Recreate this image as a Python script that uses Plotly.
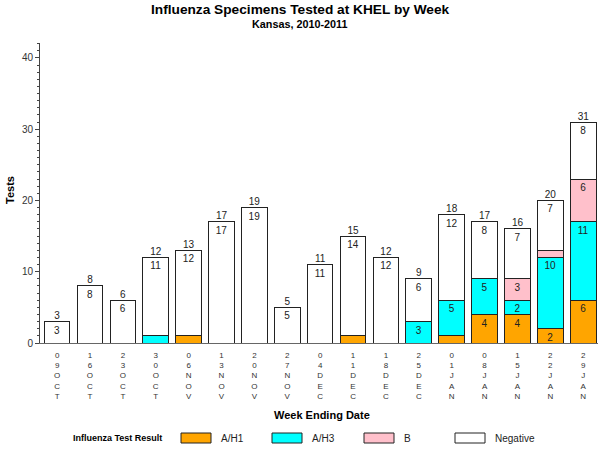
import plotly.graph_objects as go

# week ending dates, shown as stacked characters under each bar
weeks = ['09OCT', '16OCT', '23OCT', '30OCT', '06NOV', '13NOV', '20NOV', '27NOV', '04DEC',
         '11DEC', '18DEC', '25DEC', '01JAN', '08JAN', '15JAN', '22JAN', '29JAN']

a_h1 = [0, 0, 0, 0, 1, 0, 0, 0, 0, 1, 0, 0, 1, 4, 4, 2, 6]
a_h3 = [0, 0, 0, 1, 0, 0, 0, 0, 0, 0, 0, 3, 5, 5, 2, 10, 11]
flu_b = [0, 0, 0, 0, 0, 0, 0, 0, 0, 0, 0, 0, 0, 0, 3, 1, 6]
negative = [3, 8, 6, 11, 12, 17, 19, 5, 11, 14, 12, 6, 12, 8, 7, 7, 8]

series = [
    ('A/H1', a_h1, '#FFA500'),
    ('A/H3', a_h3, '#00FFFF'),
    ('B', flu_b, '#FFC0CB'),
    ('Negative', negative, '#FFFFFF'),
]

totals = [sum(v) for v in zip(a_h1, a_h3, flu_b, negative)]
tick_text = ['<br>'.join(list(w)) for w in weeks]

FONT = 'Arial, Liberation Sans, sans-serif'

fig = go.Figure()
for name, vals, color in series:
    fig.add_trace(go.Bar(
        x=weeks, y=vals, name=name,
        marker=dict(color=color, line=dict(color='#222222', width=1)),
        text=[str(v) if v >= 2 else '' for v in vals],
        textposition='inside', insidetextanchor='end', textangle=0,
        textfont=dict(family=FONT, size=10, color='#222222'),
        showlegend=False, hoverinfo='skip',
    ))

# totals above each stack
fig.add_trace(go.Scatter(
    x=weeks, y=totals, mode='text', text=[str(t) for t in totals],
    textposition='top center', textfont=dict(family=FONT, size=10, color='#222222'),
    showlegend=False, cliponaxis=False, hoverinfo='skip',
))

# pixel -> paper helpers (plot area is x 40..598, y 43..343)
def px(x):
    return (x - 40) / 558.0

def py(y):
    return (343 - y) / 300.0

annotations = [
    dict(text='<b>Influenza Specimens Tested at KHEL by Week</b>', x=px(300), y=py(10),
         font=dict(size=13.7, color='black')),
    dict(text='<b>Kansas, 2010-2011</b>', x=px(299), y=py(24), font=dict(size=10.8, color='black')),
    dict(text='<b>Week Ending Date</b>', x=px(322), y=py(415), font=dict(size=11, color='black')),
    dict(text='<b>Tests</b>', x=px(10), y=py(190), textangle=-90, font=dict(size=11, color='black')),
    dict(text='<b>Influenza Test Result</b>', x=px(118), y=py(438), font=dict(size=9, color='black')),
]
shapes = []
legend_x = [181, 272, 364, 455]
for (name, vals, color), lx in zip(series, legend_x):
    shapes.append(dict(type='rect', xref='paper', yref='paper',
                       x0=px(lx), x1=px(lx + 30), y0=py(443), y1=py(433),
                       fillcolor=color, line=dict(color='#222222', width=1)))
    annotations.append(dict(text=name, x=px(lx + 38), y=py(438), xanchor='left',
                            font=dict(size=10, color='#222222')))

for a in annotations:
    a.setdefault('xref', 'paper')
    a.setdefault('yref', 'paper')
    a.setdefault('xanchor', 'center')
    a.setdefault('yanchor', 'middle')
    a.setdefault('showarrow', False)
    a['font']['family'] = FONT

fig.update_layout(
    width=600, height=450,
    margin=dict(l=40, r=2, t=43, b=107, autoexpand=False),
    barmode='stack', bargap=0.22,
    plot_bgcolor='white', paper_bgcolor='white',
    font=dict(family=FONT, size=10, color='#333333'),
    annotations=annotations, shapes=shapes,
    uniformtext=dict(minsize=8, mode='show'),
    hovermode=False,
)
fig.update_xaxes(
    tickmode='array', tickvals=weeks, ticktext=tick_text,
    tickfont=dict(size=8, color='#333333'), ticklabelstandoff=4,
    showline=True, linecolor='#666666', linewidth=1,
    ticks='', showgrid=False, range=[-0.52, 16.45], automargin=False,
)
fig.update_yaxes(
    range=[0, 42.1], tickvals=[0, 10, 20, 30, 40],
    tickfont=dict(size=10, color='#333333'),
    showline=True, linecolor='#444444', linewidth=1,
    ticks='outside', ticklen=4, tickcolor='#444444',
    minor=dict(dtick=1, ticks='outside', ticklen=2, tickcolor='#444444'),
    showgrid=False, zeroline=False, automargin=False,
)

fig.write_html('out.html', config={'displayModeBar': False},
               post_script="document.body.style.margin='0';")
